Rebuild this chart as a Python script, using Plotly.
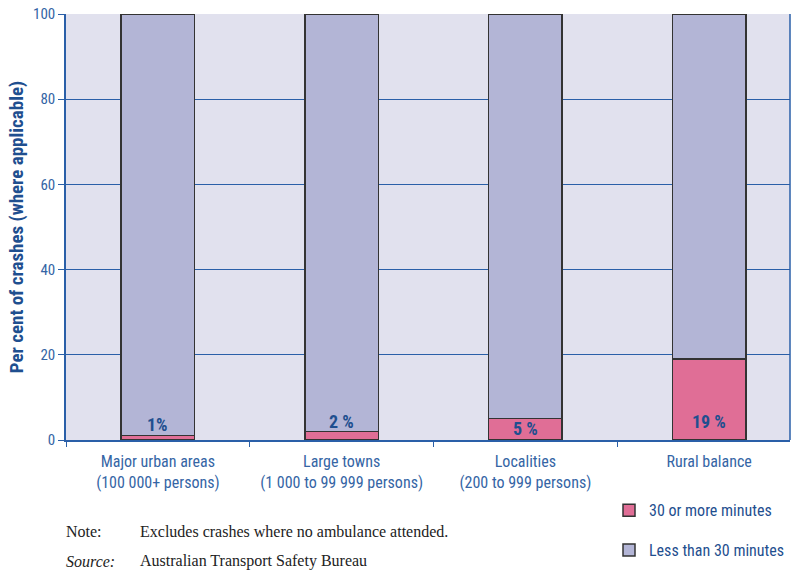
import plotly.graph_objects as go

categories = ["Major urban areas<br>(100 000+ persons)",
              "Large towns<br>(1 000 to 99 999 persons)",
              "Localities<br>(200 to 999 persons)",
              "Rural balance"]
over30 = [1, 2, 5, 19]
under30 = [99, 98, 95, 81]
label_text = ["1%", "2 %", "5 %", "19 %"]
label_y = [3.6, 4.3, 2.8, 4.3]

BLUE = "#1f4f8f"
TICKBLUE = "#3565a5"
LINE = "#2a5fa8"
PINK = "#e06e96"
LAV = "#b3b5d6"
COND = "Liberation Sans Narrow, Roboto Condensed, Arial Narrow, sans-serif"
SERIF = "Liberation Serif, DejaVu Serif, serif"

fig = go.Figure()
fig.add_trace(go.Bar(x=categories, y=over30, name="30 or more minutes",
                     marker=dict(color=PINK, line=dict(color="#333333", width=1.5)),
                     width=0.4, legendgroup="a"))
fig.add_trace(go.Bar(x=categories, y=under30, name="Less than 30 minutes",
                     marker=dict(color=LAV, line=dict(color="#333333", width=1.5)),
                     width=0.4, legendgroup="b"))

for c, t, yy in zip(categories, label_text, label_y):
    fig.add_annotation(x=c, y=yy, text="<b>" + t + "</b>", showarrow=False,
                       font=dict(family=COND, size=18, color=BLUE), yanchor="middle")

notes = [("Note:", "Excludes crashes where no ambulance attended.", -0.215),
         ("<i>Source:</i>", "Australian Transport Safety Bureau", -0.285)]
for lab, txt, yy in notes:
    fig.add_annotation(xref="paper", yref="paper", x=0, y=yy, xanchor="left", yanchor="middle",
                       xshift=-2, text=lab, showarrow=False,
                       font=dict(family=SERIF, size=16, color="#222222"))
    fig.add_annotation(xref="paper", yref="paper", x=0.1, y=yy, xanchor="left", yanchor="middle",
                       text=txt, showarrow=False,
                       font=dict(family=SERIF, size=16, color="#222222"))

fig.update_layout(
    barmode="stack",
    width=792, height=571,
    margin=dict(l=66, r=2, t=14, b=131),
    paper_bgcolor="white",
    plot_bgcolor="#e1e1ee",
    font=dict(family=COND, color=TICKBLUE),
    showlegend=True,
    legend=dict(x=1.0, y=-0.125, xanchor="right", yanchor="top",
                traceorder="grouped", tracegroupgap=16,
                font=dict(family=COND, size=16, color=BLUE),
                bgcolor="rgba(0,0,0,0)"),
    xaxis=dict(range=[-0.5, 3.44], tickson="boundaries", ticks="outside", ticklen=5,
               tickcolor=LINE, showline=True, linecolor=LINE, linewidth=1.5,
               tickfont=dict(family=COND, size=16, color=TICKBLUE), ticklabelstandoff=6,
               tickangle=0, showgrid=False),
    yaxis=dict(range=[0, 100], tickvals=[0, 20, 40, 60, 80, 100], ticks="outside",
               ticklen=6, tickcolor=LINE, showline=True, linecolor=LINE, linewidth=1.5,
               showgrid=True, gridcolor=LINE, gridwidth=1, zeroline=False,
               tickfont=dict(family=COND, size=15, color=TICKBLUE),
               title=dict(text="<b>Per cent of crashes (where applicable)</b>",
                          font=dict(family=COND, size=19, color=BLUE), standoff=4)),
)
fig.add_shape(type="line", xref="paper", yref="paper", x0=1, x1=1, y0=0, y1=1,
              line=dict(color=LINE, width=1.5))

fig.write_html("out.html")
